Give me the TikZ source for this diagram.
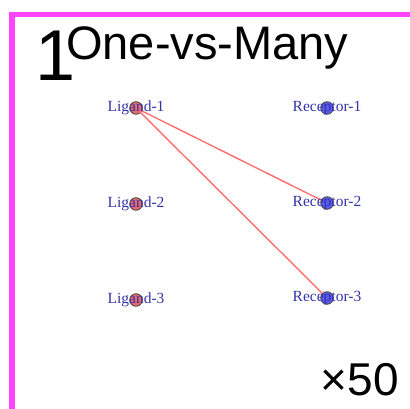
\documentclass[tikz,border=0pt]{standalone}
\usepackage{fontspec}
\setmainfont{Liberation Serif}
\newfontfamily\titlefont{Liberation Sans}
\definecolor{frame}{HTML}{FF44FF}
\definecolor{lig}{HTML}{E86A6A}
\definecolor{rec}{HTML}{5A5AEE}
\definecolor{lab}{HTML}{3333A8}
\definecolor{edge}{HTML}{FF6E6E}
\begin{document}
\begin{tikzpicture}[x=1pt,y=-1pt,
  dot/.style={circle,draw=black!70,line width=0.9pt,minimum size=12.5pt,inner sep=0pt},
  ligdot/.style={dot,fill=lig},
  recdot/.style={dot,fill=rec},
  lbl/.style={text=lab,font=\fontsize{15.5}{17}\selectfont,inner sep=0pt},
  link/.style={draw=edge,line width=1.4pt}]
\useasboundingbox (0,0) rectangle (410,409);
\begin{scope}
\clip (0,0) rectangle (410,409);
\draw[frame,line width=5.5pt] (12,14.5) rectangle (412.5,420);
\end{scope}
\node[anchor=base west,inner sep=0pt,font=\titlefont\fontsize{72}{72}\selectfont] (num) at (35,81) {1};
\node[anchor=base west,inner sep=0pt,font=\titlefont\fontsize{47}{47}\selectfont] (title) at (66,60) {One-vs-Many};
\node[anchor=base east,inner sep=0pt,font=\titlefont\fontsize{46}{46}\selectfont] (scale) at (399,395) {×50};
\node[ligdot] (l1) at (136,108) {};
\node[ligdot] (l2) at (136,204) {};
\node[ligdot] (l3) at (136,300) {};
\node[recdot] (r1) at (327,108) {};
\node[recdot] (r2) at (327,203) {};
\node[recdot] (r3) at (327,298) {};
\draw[link] (l1.center) -- (r2);
\draw[link] (l1.center) -- (r3);
\node[lbl] (tl1) at (l1) {Ligand-1};
\node[lbl] (tl2) at (l2) {Ligand-2};
\node[lbl] (tl3) at (l3) {Ligand-3};
\node[lbl] (tr1) at (r1) {Receptor-1};
\node[lbl] (tr2) at (r2) {Receptor-2};
\node[lbl] (tr3) at (r3) {Receptor-3};
\end{tikzpicture}
\end{document}
